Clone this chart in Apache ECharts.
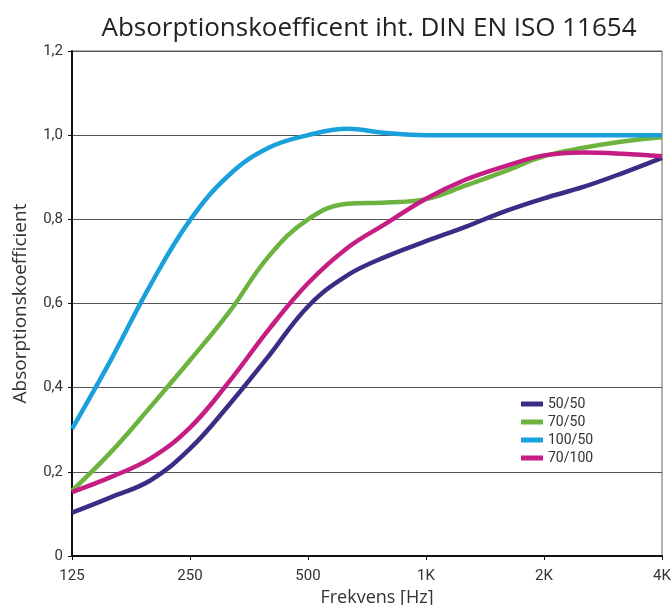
<!DOCTYPE html>
<html>
<head>
<meta charset="utf-8">
<script src="https://cdn.jsdelivr.net/npm/echarts@6/dist/echarts.min.js"></script>
<style>
  html, body { margin: 0; padding: 0; background: #fff; }
  #chart { width: 672px; height: 605px; }
</style>
</head>
<body>
<div id="chart"></div>
<script>
// tertsbånd 125 Hz - 4 kHz
const frequencies = ['125', '160', '200', '250', '315', '400', '500', '630', '800',
    '1K', '1.25K', '1.6K', '2K', '2.5K', '3.15K', '4K'];
const yTicks = [0, 0.2, 0.4, 0.6, 0.8, 1.0, 1.2];

const names = ['50/50', '70/50', '100/50', '70/100'];
const colors = ['#3a2d86', '#6db33f', '#1aa1dc', '#c61d85'];

const s50_50 = [0.103, 0.140, 0.180, 0.255, 0.360, 0.475, 0.593, 0.667, 0.712,
    0.748, 0.782, 0.819, 0.850, 0.877, 0.910, 0.946];
const s70_50 = [0.155, 0.248, 0.355, 0.465, 0.580, 0.712, 0.800, 0.837, 0.840,
    0.848, 0.880, 0.914, 0.950, 0.970, 0.985, 0.995];
const s100_50 = [0.302, 0.468, 0.645, 0.798, 0.906, 0.970, 1.000, 1.015, 1.005,
    1.000, 1.000, 1.000, 1.000, 1.000, 1.000, 1.000];
const s70_100 = [0.152, 0.188, 0.232, 0.305, 0.415, 0.538, 0.648, 0.732, 0.791,
    0.849, 0.894, 0.926, 0.952, 0.959, 0.956, 0.950];

const seriesData = [s50_50, s70_50, s100_50, s70_100];

const chart = echarts.init(document.getElementById('chart'), null, { renderer: 'canvas' });

const option = {
    animation: false,
    backgroundColor: '#fff',
    textStyle: { fontFamily: 'Roboto' },
    title: {
        text: 'Absorptionskoefficent iht. DIN EN ISO 11654',
        left: 364,
        top: 11,
        textAlign: 'center',
        textStyle: { fontSize: 26, fontWeight: 'normal', color: '#222', fontFamily: 'Open Sans' }
    },
    legend: {
        orient: 'vertical',
        left: 521,
        top: 397,
        padding: 0,
        icon: 'rect',
        itemWidth: 22,
        itemHeight: 5,
        itemGap: 4,
        textStyle: { fontSize: 14, color: '#333' },
        data: names
    },
    grid: {
        left: 72, right: 10, top: 51, bottom: 49,
        outerBoundsMode: 'none',
        containLabel: false,
        show: true,
        borderColor: '#666',
        borderWidth: 1
    },
    xAxis: {
        type: 'category',
        data: frequencies,
        boundaryGap: false,
        name: 'Frekvens [Hz]',
        nameLocation: 'middle',
        nameGap: 33,
        nameTextStyle: { fontSize: 18, color: '#333', fontFamily: 'Open Sans', padding: [0, 0, 0, 20] },
        axisLine: { lineStyle: { color: '#111', width: 2 } },
        axisTick: { interval: 2, length: 4, lineStyle: { color: '#111' } },
        axisLabel: { interval: 2, fontSize: 15, color: '#333', margin: 13 },
        splitLine: { show: false }
    },
    yAxis: {
        type: 'value',
        min: yTicks[0],
        max: yTicks[yTicks.length - 1],
        interval: 0.2,
        name: 'Absorptionskoefficient',
        nameLocation: 'middle',
        nameGap: 42,
        nameTextStyle: { fontSize: 19, color: '#333', fontFamily: 'Open Sans' },
        axisLine: { show: true, lineStyle: { color: '#111', width: 2 } },
        axisTick: { show: true, length: 4, lineStyle: { color: '#111' } },
        axisLabel: {
            fontSize: 15, color: '#333', margin: 9,
            formatter: v => v === 0 ? '0' : v.toFixed(1).replace('.', ',')
        },
        splitLine: { lineStyle: { color: '#555', width: 1 } }
    },
    series: names.map((name, i) => ({
        name: name,
        type: 'line',
        data: seriesData[i],
        smooth: 0.4,
        showSymbol: false,
        color: colors[i],
        lineStyle: { width: 4.5, color: colors[i] }
    }))
};

chart.setOption(option);
</script>
</body>
</html>
